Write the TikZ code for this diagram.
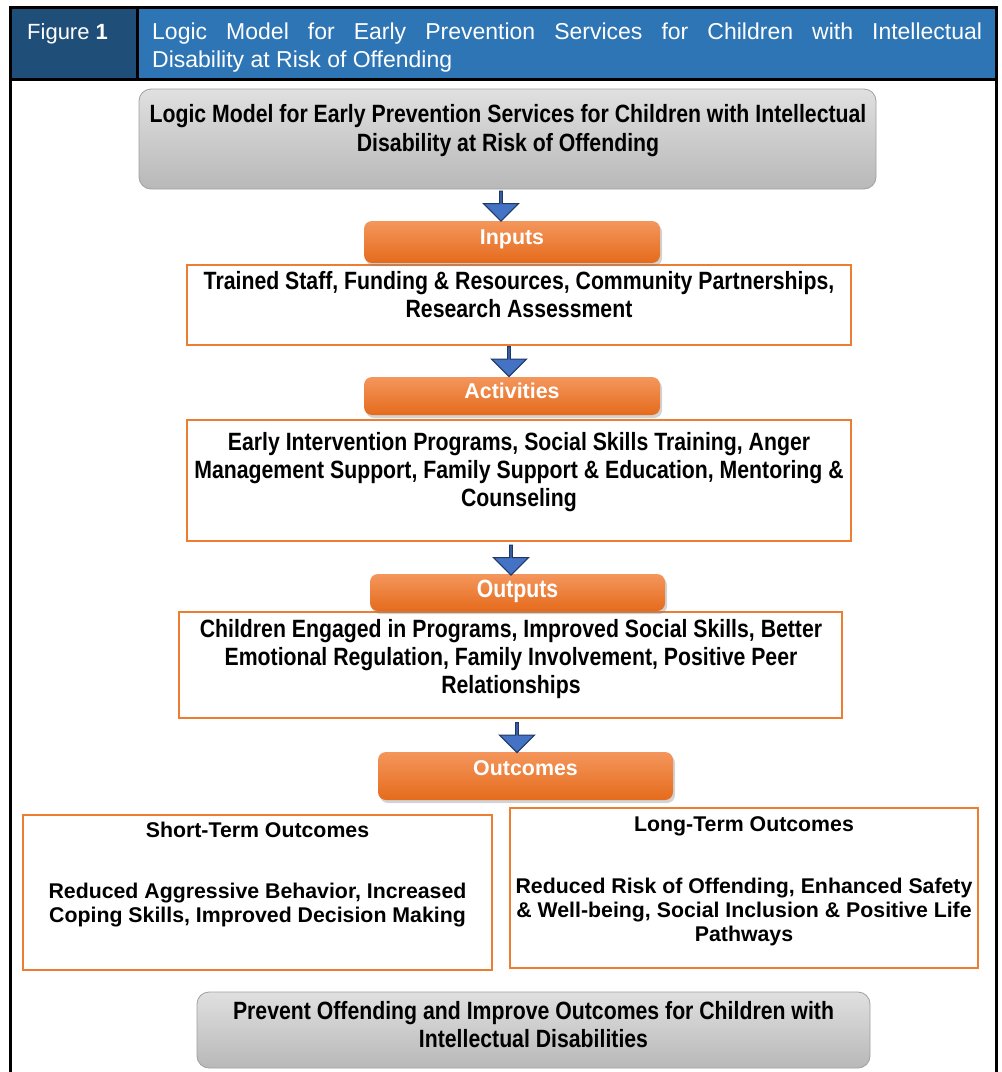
\documentclass[tikz,border=0pt]{standalone}
\usepackage{fontspec}
\setmainfont{Liberation Sans}
\newfontfamily\narrowfont[FakeStretch=0.85]{Liberation Sans}
\usetikzlibrary{shapes.arrows,shadows}
\definecolor{hdrdark}{HTML}{1F4E79}
\definecolor{hdrblue}{HTML}{2E75B6}
\definecolor{orline}{HTML}{ED7D31}
\definecolor{ortop}{HTML}{F4965C}
\definecolor{orbot}{HTML}{E56B1C}
\definecolor{graytop}{HTML}{E0E0E0}
\definecolor{graybot}{HTML}{B8B8B8}
\definecolor{grayline}{HTML}{A0A0A0}
\definecolor{arrowfill}{HTML}{4472C4}
\definecolor{arrowline}{HTML}{1F3864}
\begin{document}
\begin{tikzpicture}[x=1pt,y=-1pt,
  graybox/.style={draw=grayline, line width=0.8, rounded corners=12, top color=graytop, bottom color=graybot, inner sep=0},
  orangebox/.style={rounded corners=8, top color=ortop, bottom color=orbot, inner sep=0,
     drop shadow={opacity=0.35, shadow xshift=2pt, shadow yshift=-3pt}},
  contentbox/.style={draw=orline, line width=2, fill=white, inner sep=0},
  blockarrow/.style={shape=single arrow, shape border rotate=270, fill=arrowfill, draw=arrowline, line width=1.2,
     minimum height=30, minimum width=35, single arrow head extend=8, inner sep=0},
  narrowtext/.style={inner sep=0, anchor=north, align=center, font=\narrowfont\bfseries\fontsize{25}{28}\selectfont},
  wtext/.style={inner sep=0, anchor=north, align=center, text=white, font=\bfseries\fontsize{21.4}{26}\selectfont},
  outtext/.style={inner sep=0, anchor=north, align=center, font=\bfseries\fontsize{21.3}{24}\selectfont},
  hdrtext/.style={inner sep=0, anchor=north west, align=left, text=white, font=\fontsize{23}{28}\selectfont}
]
\useasboundingbox (0,0) rectangle (1002,1072);
% header
\fill[hdrdark] (10.5,7.5) rectangle (137,79);
\fill[hdrblue] (137,7.5) rectangle (996.5,79);
\draw[line width=3] (10.5,1075) -- (10.5,7.5) -- (996.5,7.5) -- (996.5,1075);
\draw[line width=3] (10.5,79) -- (996.5,79);
\draw[line width=3] (137,7.5) -- (137,79);
\node[hdrtext, font=\fontsize{22}{28}\selectfont] (figlabel) at (27,23) {Figure \textbf{1}};
\node[hdrtext] (figtitle) at (152,22.4) {\makebox[830pt][s]{Logic Model for Early Prevention Services for Children with Intellectual}\\Disability at Risk of Offending};

% title box
\node[graybox, minimum width=737, minimum height=100] (title) at (507.5,139) {};
\node[narrowtext, font=\narrowfont\bfseries\fontsize{25}{29}\selectfont] (titletxt) at (508,103.7) {Logic Model for Early Prevention Services for Children with Intellectual\\Disability at Risk of Offending};

% inputs
\node[contentbox, minimum width=664, minimum height=80] (inbox) at (519,305) {};
\node[orangebox, minimum width=296, minimum height=42] (inputs) at (512,242) {};
\node[wtext] (inputstxt) at (512,229.1) {Inputs};
\node[narrowtext] (intxt) at (519,270.7) {Trained Staff, Funding \& Resources, Community Partnerships,\\Research Assessment};
\node[blockarrow] (a1) at (501,205.5) {};

% activities
\node[contentbox, minimum width=664, minimum height=121] (actbox) at (519,480.5) {};
\node[orangebox, minimum width=296, minimum height=38] (activities) at (512,396) {};
\node[wtext] (activitiestxt) at (512,383.1) {Activities};
\node[narrowtext] (acttxt) at (519,431.7) {Early Intervention Programs, Social Skills Training, Anger\\Management Support, Family Support \& Education, Mentoring \&\\Counseling};
\node[blockarrow] (a2) at (509,361) {};

% outputs
\node[contentbox, minimum width=663, minimum height=106] (outbox) at (510.5,665) {};
\node[orangebox, minimum width=295, minimum height=37] (outputs) at (517.5,592.5) {};
\node[wtext, font=\narrowfont\bfseries\fontsize{25}{28}\selectfont] (outputstxt) at (517.5,579.7) {Outputs};
\node[narrowtext] (outtxt) at (511,618.7) {Children Engaged in Programs, Improved Social Skills, Better\\Emotional Regulation, Family Involvement, Positive Peer\\Relationships};
\node[blockarrow] (a3) at (511,559.5) {};

% outcomes
\node[orangebox, minimum width=295, minimum height=48] (outcomes) at (525.5,776) {};
\node[wtext] (outcomestxt) at (525.5,760.1) {Outcomes};
\node[blockarrow] (a4) at (517,737) {};

\node[contentbox, minimum width=469, minimum height=155] (short) at (257.5,892.5) {};
\node[outtext] (shorttitle) at (257.5,822.1) {Short-Term Outcomes};
\node[outtext] (shorttxt) at (257.5,883.1) {Reduced Aggressive Behavior, Increased\\Coping Skills, Improved Decision Making};

\node[contentbox, minimum width=468, minimum height=160] (long) at (744,888) {};
\node[outtext] (longtitle) at (744,816.1) {Long-Term Outcomes};
\node[outtext] (longtxt) at (744,878.1) {Reduced Risk of Offending, Enhanced Safety\\\& Well-being, Social Inclusion \& Positive Life\\Pathways};

% final
\node[graybox, minimum width=673, minimum height=76] (final) at (533.5,1030) {};
\node[narrowtext] (finaltxt) at (533.5,1000.7) {Prevent Offending and Improve Outcomes for Children with\\Intellectual Disabilities};
\end{tikzpicture}
\end{document}
